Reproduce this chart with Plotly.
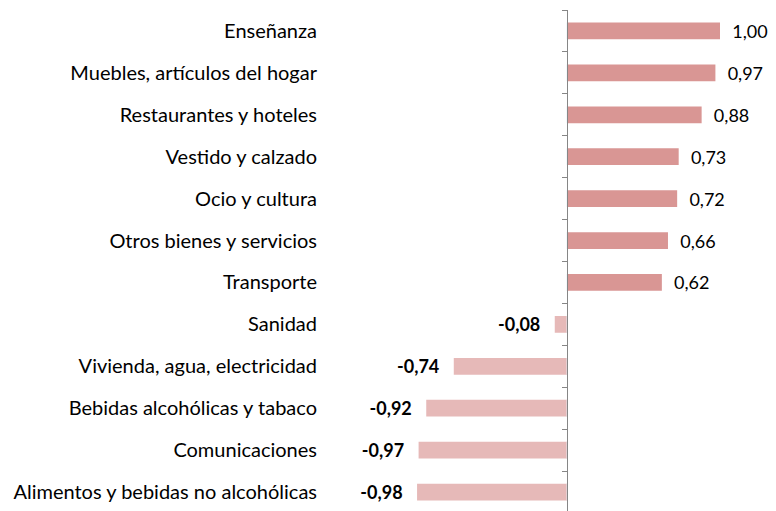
import plotly.graph_objects as go

categories = [
    "Enseñanza",
    "Muebles, artículos del hogar",
    "Restaurantes y hoteles",
    "Vestido y calzado",
    "Ocio y cultura",
    "Otros bienes y servicios",
    "Transporte",
    "Sanidad",
    "Vivienda, agua, electricidad",
    "Bebidas alcohólicas y tabaco",
    "Comunicaciones",
    "Alimentos y bebidas no alcohólicas",
]
values = [1.00, 0.97, 0.88, 0.73, 0.72, 0.66, 0.62, -0.08, -0.74, -0.92, -0.97, -0.98]

POS_COLOR = "#D99694"
NEG_COLOR = "#E6B9B8"
FONT = "Lato"

pad = "\u00a0\u00a0"
colors = [POS_COLOR if v >= 0 else NEG_COLOR for v in values]
texts = []
for v in values:
    s = f"{abs(v):.2f}".replace(".", ",")
    if v >= 0:
        texts.append(pad + s)
    else:
        texts.append("<b>-" + s + "</b>" + pad + "\u2009")

W, H = 760, 511
# page body has an 8px offset; layout numbers are in figure coordinates
L, R, T, B = 317, 2, 2, 6
zero_px = 559
px_per_unit = 153
xmin = -(zero_px - L) / px_per_unit
xmax = (W - R - zero_px) / px_per_unit
zero_frac = (0 - xmin) / (xmax - xmin)

fig = go.Figure()
fig.add_trace(go.Bar(
    y=categories, x=values, orientation="h",
    marker=dict(color=colors, line=dict(width=0)),
    width=0.4,
    text=texts, textposition="outside", cliponaxis=False, constraintext="none",
    textfont=dict(family=FONT, size=18, color="#000000"),
    hoverinfo="skip",
))
# invisible trace to carry the axis at zero
fig.add_trace(go.Bar(
    y=categories, x=[0] * len(categories), orientation="h",
    yaxis="y2", marker=dict(color="rgba(0,0,0,0)"), hoverinfo="skip", showlegend=False,
))

fig.update_layout(
    width=W, height=H,
    margin=dict(l=L, r=R, t=T, b=B),
    plot_bgcolor="white", paper_bgcolor="white",
    showlegend=False,
    bargap=0.6,
    xaxis=dict(range=[xmin, xmax], showgrid=False, zeroline=False, showticklabels=False,
               showline=False, ticks=""),
    yaxis=dict(type="category", categoryarray=categories, autorange="reversed",
               showgrid=False, showline=False, ticks="",
               tickfont=dict(family=FONT, size=20, color="#000000"),
               ticklabelstandoff=7),
    yaxis2=dict(type="category", categoryarray=categories, autorange="reversed",
                overlaying="y", anchor="free", position=zero_frac, side="left",
                showline=True, linecolor="#868686", linewidth=1,
                ticks="outside", ticklen=5, tickcolor="#868686", tickson="boundaries",
                showticklabels=False, showgrid=False),
)

fig.write_html("out.html")
